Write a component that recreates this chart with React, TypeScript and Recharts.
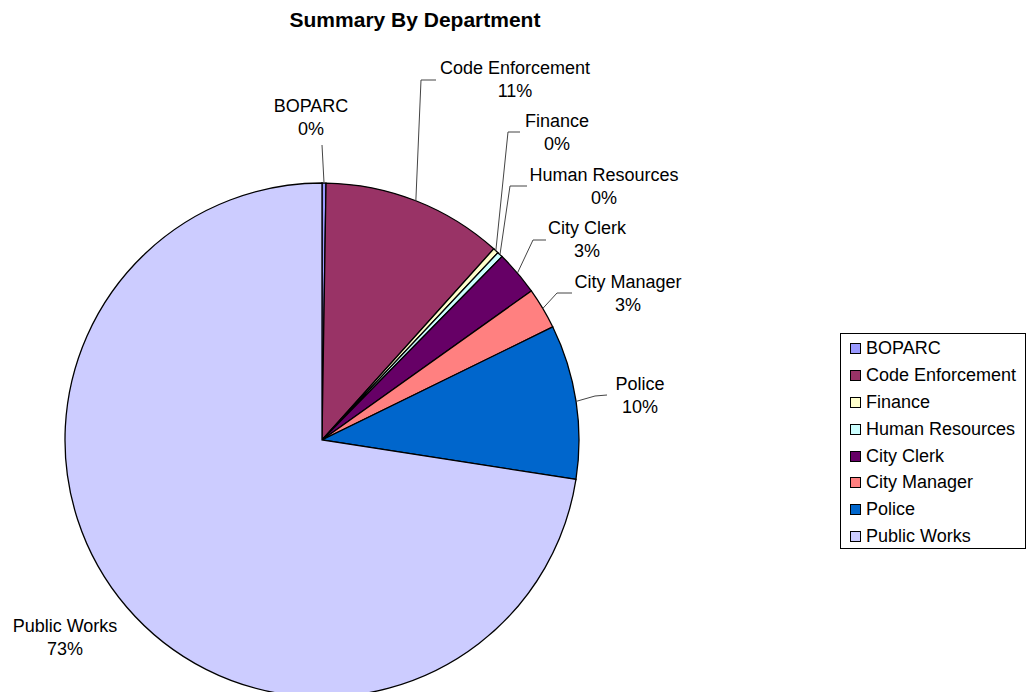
import React from "react";
import { PieChart, Pie, Cell, Legend } from "recharts";

document.body.style.margin = "0";

const departments = [
  "BOPARC",
  "Code Enforcement",
  "Finance",
  "Human Resources",
  "City Clerk",
  "City Manager",
  "Police",
  "Public Works",
];
const amounts = [0.25, 11.4, 0.35, 0.35, 2.8, 2.6, 9.7, 72.55];
const colors = ["#9999FF", "#993366", "#FFFFCC", "#CCFFFF", "#660066", "#FF8080", "#0066CC", "#CCCCFF"];

const data = departments.map((name, i) => ({ name, value: amounts[i] }));

// label placement, relative to the pie centre (elbow of leader, end of leader, text centre)
const labelLayout: { elbow?: [number, number]; end?: [number, number]; text: [number, number] }[] = [
  { elbow: [0, -295], end: [0, -295], text: [-11, -334] },
  { elbow: [99, -360], end: [114, -360], text: [193, -372] },
  { elbow: [186, -308], end: [198, -308], text: [235, -319] },
  { elbow: [188, -254], end: [205, -254], text: [282, -265] },
  { elbow: [211, -200], end: [224, -200], text: [265, -212] },
  { elbow: [235, -147], end: [250, -147], text: [306, -158] },
  { elbow: [273, -44], end: [285, -45], text: [318, -56] },
  { text: [-257, 186] },
];

const FONT = '"Liberation Sans", Arial, sans-serif';
const RAD = Math.PI / 180;

const renderLabel = (props: any) => {
  const { cx, cy, midAngle, outerRadius, index, name, percent } = props;
  const lay = labelLayout[index];
  const sx = cx + outerRadius * Math.cos(-midAngle * RAD);
  const sy = cy + outerRadius * Math.sin(-midAngle * RAD);
  const tx = cx + lay.text[0];
  const ty = cy + lay.text[1];
  return (
    <g key={`lbl-${index}`}>
      {lay.elbow && lay.end && (
        <polyline
          points={`${sx},${sy} ${cx + lay.elbow[0]},${cy + lay.elbow[1]} ${cx + lay.end[0]},${cy + lay.end[1]}`}
          fill="none"
          stroke="#444"
          strokeWidth={1}
        />
      )}
      <text x={tx} y={ty} textAnchor="middle" dominantBaseline="central" fontSize={18} fontFamily={FONT} fill="#000">
        {name}
      </text>
      <text x={tx} y={ty + 23} textAnchor="middle" dominantBaseline="central" fontSize={18} fontFamily={FONT} fill="#000">
        {`${Math.round(percent * 100)}%`}
      </text>
    </g>
  );
};

const renderLegend = () => (
  <div
    style={{
      boxSizing: "border-box",
      width: 186,
      height: 216,
      border: "1px solid #000",
      padding: "1px 0 0 9px",
      fontFamily: FONT,
      fontSize: 18,
      background: "#fff",
    }}
  >
    {departments.map((d, i) => (
      <div key={d} style={{ display: "flex", alignItems: "center", height: 26.9 }}>
        <span
          style={{
            display: "inline-block",
            width: 9,
            height: 9,
            border: "1px solid #000",
            background: colors[i],
            marginRight: 5,
          }}
        />
        <span style={{ whiteSpace: "nowrap" }}>{d}</span>
      </div>
    ))}
  </div>
);

export default function App() {
  return (
    <div style={{ position: "relative", width: 1029, height: 692, background: "#fff", overflow: "hidden" }}>
      <div
        style={{
          position: "absolute",
          top: 8,
          left: 285,
          width: 260,
          textAlign: "center",
          fontFamily: FONT,
          fontWeight: "bold",
          fontSize: 21,
          whiteSpace: "nowrap",
          lineHeight: "24px",
        }}
      >
        Summary By Department
      </div>
      <PieChart width={1029} height={692} margin={{ top: 0, right: 0, bottom: 0, left: 0 }}>
        <Pie
          data={data}
          dataKey="value"
          nameKey="name"
          cx={322}
          cy={440}
          outerRadius={257}
          startAngle={90}
          endAngle={-270}
          stroke="#000"
          strokeWidth={1.3}
          label={renderLabel}
          labelLine={false}
          isAnimationActive={false}
        >
          {data.map((d, i) => (
            <Cell key={d.name} fill={colors[i]} />
          ))}
        </Pie>
        <Legend content={renderLegend} wrapperStyle={{ left: 840, top: 333, width: 186 }} />
      </PieChart>
    </div>
  );
}
